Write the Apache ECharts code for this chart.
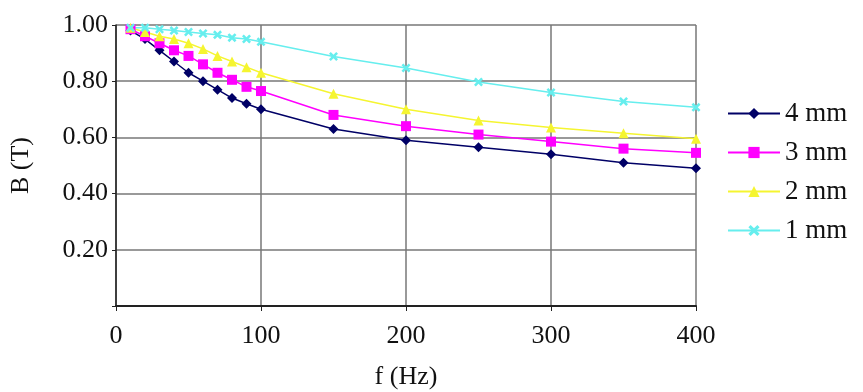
<!DOCTYPE html>
<html>
<head>
<meta charset="utf-8">
<script src="https://cdn.jsdelivr.net/npm/echarts@6/dist/echarts.min.js"></script>
<style>
  html, body { margin: 0; padding: 0; background: #fff; }
  #chart { width: 863px; height: 392px; }
</style>
</head>
<body>
<div id="chart"></div>
<script>
  // frequencies (Hz)
  var freq = [10, 20, 30, 40, 50, 60, 70, 80, 90, 100, 150, 200, 250, 300, 350, 400];
  // B (T) for each thickness
  var b4mm = [0.98, 0.95, 0.91, 0.87, 0.83, 0.80, 0.77, 0.74, 0.72, 0.70, 0.63, 0.59, 0.565, 0.54, 0.51, 0.49];
  var b3mm = [0.985, 0.96, 0.935, 0.91, 0.89, 0.86, 0.83, 0.805, 0.78, 0.765, 0.68, 0.64, 0.61, 0.585, 0.56, 0.545];
  var b2mm = [0.99, 0.975, 0.96, 0.95, 0.935, 0.915, 0.89, 0.87, 0.85, 0.83, 0.755, 0.70, 0.66, 0.635, 0.615, 0.595];
  var b1mm = [0.99, 0.99, 0.985, 0.98, 0.975, 0.97, 0.965, 0.955, 0.95, 0.94, 0.888, 0.847, 0.797, 0.76, 0.728, 0.707];
  var yTicks = [0, 0.2, 0.4, 0.6, 0.8, 1.0];

  var xMark = 'path://M0,2 L2,0 L5,3 L8,0 L10,2 L7,5 L10,8 L8,10 L5,7 L2,10 L0,8 L3,5 Z';

  function pairs(ys) {
    return freq.map(function (f, i) { return [f, ys[i]]; });
  }

  function line(name, ys, color, symbol, size) {
    return {
      name: name,
      type: 'line',
      data: pairs(ys),
      symbol: symbol,
      symbolSize: size,
      lineStyle: { color: color, width: 1.5 },
      itemStyle: { color: color },
      emphasis: { disabled: true }
    };
  }

  var font = '"Liberation Serif", "DejaVu Serif", serif';
  var fs = 26;
  var chart = echarts.init(document.getElementById('chart'));
  chart.setOption({
    animation: false,
    textStyle: { fontFamily: font },
    grid: { left: 116, right: 167, top: 25, bottom: 86, outerBoundsMode: 'none' },
    legend: {
      orient: 'vertical',
      left: 722,
      top: 95,
      itemWidth: 52,
      itemHeight: 14,
      itemGap: 12,
      textStyle: { fontFamily: font, fontSize: 27, color: '#111' },
      data: ['4 mm', '3 mm', '2 mm', '1 mm']
    },
    xAxis: {
      type: 'value',
      min: 0,
      max: 400,
      interval: 100,
      name: 'f (Hz)',
      nameLocation: 'middle',
      nameGap: 58,
      nameTextStyle: { fontFamily: font, fontSize: fs, color: '#111' },
      axisLine: { lineStyle: { color: '#222', width: 2 } },
      axisTick: { show: true, length: 5, lineStyle: { color: '#222' } },
      axisLabel: { fontFamily: font, fontSize: fs, color: '#111', margin: 17 },
      splitLine: { show: true, lineStyle: { color: '#777', width: 1.5 } }
    },
    yAxis: {
      type: 'value',
      min: yTicks[0],
      max: yTicks[yTicks.length - 1],
      interval: 0.2,
      name: 'B (T)',
      nameLocation: 'middle',
      nameGap: 82,
      nameRotate: 90,
      nameTextStyle: { fontFamily: font, fontSize: fs, color: '#111' },
      axisLine: { show: true, lineStyle: { color: '#222', width: 1.5 } },
      axisTick: { show: true, length: 4, lineStyle: { color: '#222' } },
      axisLabel: {
        fontFamily: font, fontSize: fs, color: '#111', margin: 8,
        formatter: function (v) { return v === 0 ? '' : v.toFixed(2); }
      },
      splitLine: { show: true, lineStyle: { color: '#777', width: 1.5 } }
    },
    series: [
      line('4 mm', b4mm, '#000066', 'diamond', 10),
      line('3 mm', b3mm, '#ff00ff', 'rect', 10),
      line('2 mm', b2mm, '#f5f530', 'triangle', 10),
      line('1 mm', b1mm, '#66eeee', xMark, 9)
    ]
  });
</script>
</body>
</html>
